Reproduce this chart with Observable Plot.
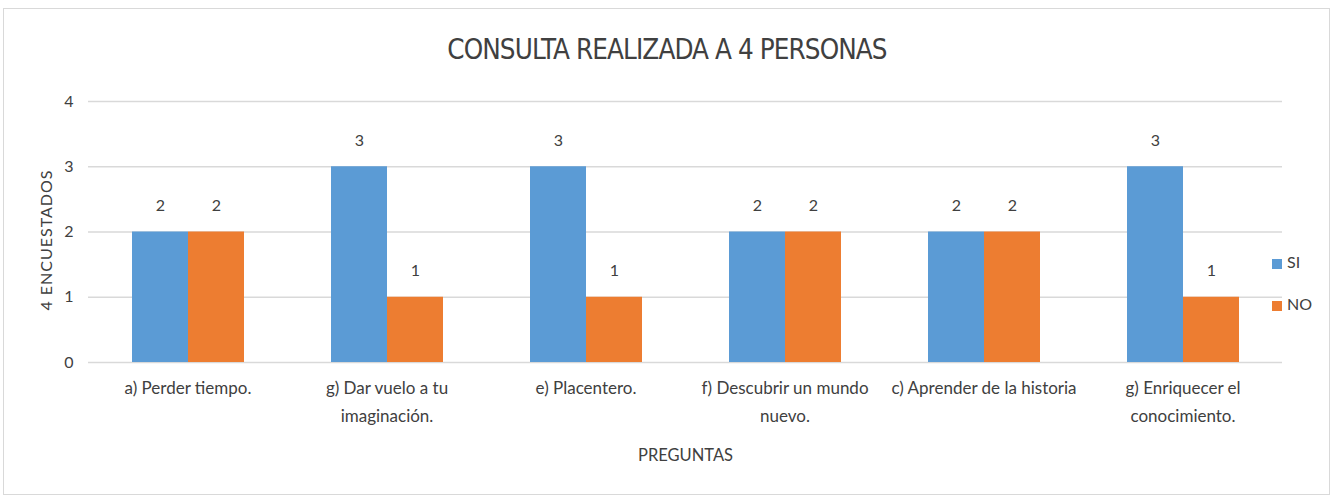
<!DOCTYPE html>
<html><head><meta charset="utf-8">
<script src="https://cdn.jsdelivr.net/npm/d3@7"></script>
<script src="https://cdn.jsdelivr.net/npm/@observablehq/plot@0.6"></script>
<style>
body{margin:0;background:#fff;}
#wrap{position:relative;width:1341px;height:498px;font-family:"Liberation Sans Narrow","DejaVu Sans Condensed",Lato,sans-serif;color:#404040;}
#frame{position:absolute;left:3px;top:8px;width:1327px;height:487px;border:1px solid #d9d9d9;box-sizing:border-box;}
#title{position:absolute;top:33px;left:0;width:1334px;text-align:center;font-size:27.5px;color:#404040;letter-spacing:-0.9px;}
#ylab{position:absolute;left:45px;top:240px;transform:translate(-50%,-50%) rotate(-90deg);font-size:16px;letter-spacing:1px;white-space:nowrap;font-family:Lato,sans-serif;}
#xlab{position:absolute;left:0;width:1371px;top:445px;text-align:center;font-size:16.5px;font-family:Lato,sans-serif;}
.leg{position:absolute;left:1272px;font-size:16px;font-family:Lato,sans-serif;}
.leg span{display:inline-block;width:10px;height:10px;margin-right:5px;vertical-align:middle;}
#chart{position:absolute;left:0;top:0;}
</style></head>
<body>
<div id="wrap">
<div id="frame"></div>
<div id="chart"></div>
<div id="title">CONSULTA REALIZADA A 4 PERSONAS</div>
<div id="ylab">4 ENCUESTADOS</div>
<div id="xlab">PREGUNTAS</div>
<div id="legend"></div>
</div>
<script>
const categories = ["a) Perder tiempo.", "g) Dar vuelo a tu\nimaginación.", "e) Placentero.", "f) Descubrir un mundo\nnuevo.", "c) Aprender de la historia", "g) Enriquecer el\nconocimiento."];
const series = ["SI", "NO"];
const siValues = [2, 3, 3, 2, 2, 3];
const noValues = [2, 1, 1, 2, 2, 1];
const yTicks = [0, 1, 2, 3, 4];
const colors = ["#5B9BD5", "#ED7D31"];

const data = [];
categories.forEach((c, i) => {
  data.push({cat: c, series: "SI", value: siValues[i]});
  data.push({cat: c, series: "NO", value: noValues[i]});
});

const chart = Plot.plot({
  width: 1341, height: 498,
  marginTop: 101, marginBottom: 136, marginLeft: 88, marginRight: 59,
  style: {fontFamily: "Lato, sans-serif", color: "#404040", background: "transparent"},
  fx: {domain: categories, padding: 0, label: null},
  x: {domain: series, paddingInner: 0, paddingOuter: 0.75, axis: null},
  y: {domain: [0, 4], label: null},
  color: {domain: series, range: colors},
  marks: [
    Plot.ruleY(yTicks, {stroke: "#d9d9d9", strokeWidth: 1.5}),
    Plot.axisY({ticks: yTicks, tickSize: 0, tickPadding: 15, label: null, fontSize: 16, tickFormat: d => d}),
    Plot.axisFx({anchor: "bottom", tickSize: 0, tickPadding: 12, label: null, fontSize: 17, lineHeight: 1.65}),
    Plot.barY(data, {fx: "cat", x: "series", y: "value", fill: "series"}),
    Plot.text(data, {fx: "cat", x: "series", y: "value", text: "value", dy: -26, fontSize: 16, fill: "#404040"})
  ]
});
document.getElementById("chart").appendChild(chart);

const leg = document.getElementById("legend");
series.forEach((s, i) => {
  const d = document.createElement("div");
  d.className = "leg";
  d.style.top = (252 + i * 42) + "px";
  d.innerHTML = `<span style="background:${colors[i]}"></span>${s}`;
  leg.appendChild(d);
});
</script>
</body></html>
